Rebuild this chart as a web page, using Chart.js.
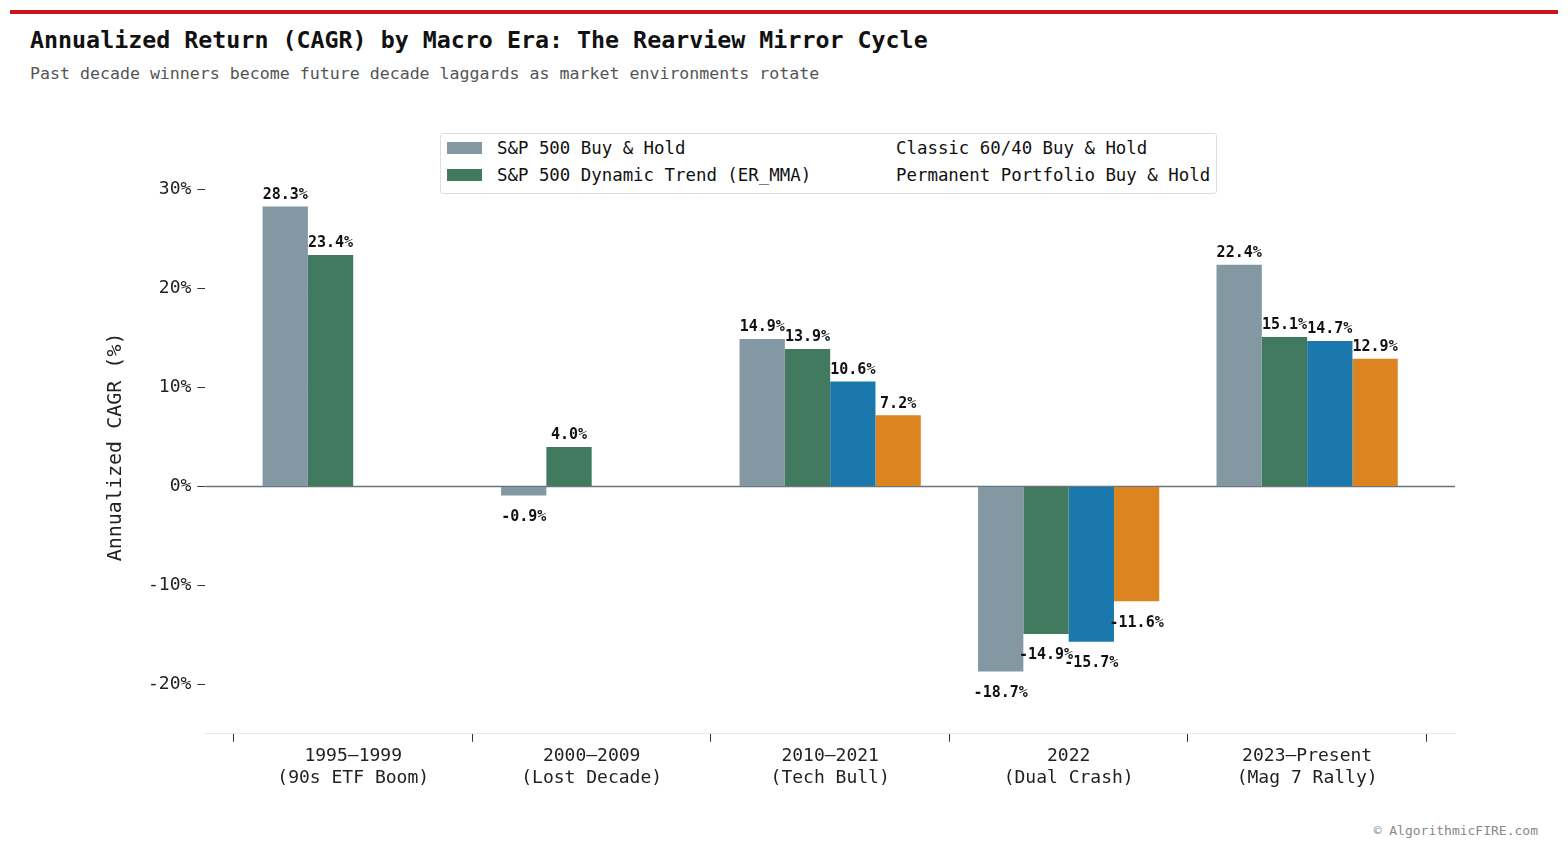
<!DOCTYPE html>
<html><head><meta charset="utf-8">
<script src="https://cdn.jsdelivr.net/npm/chart.js@4"></script>
<style>
body{margin:0;width:1568px;height:853px;background:#fff;position:relative;overflow:hidden;font-family:"DejaVu Sans Mono",monospace}
#bar{position:absolute;left:10px;top:10px;width:1548px;height:4px;background:#d0131a}
#t{position:absolute;left:30px;top:26px;font-size:23.3px;font-weight:bold;color:#111}
#s{position:absolute;left:30px;top:64px;font-size:16.6px;color:#555}
#wm{position:absolute;right:30px;top:823px;font-size:13px;color:#888}
#lg{position:absolute;left:440px;top:133px;width:775px;height:59px;border:1.5px solid #ddd;border-radius:3px;background:#fff;font-size:17.4px;color:#111;z-index:2}
.it{position:absolute;display:flex;align-items:center}
.sw{width:35px;height:12px;margin-right:15px}
canvas{position:absolute;left:0;top:0}
</style></head><body>
<div id="bar"></div>
<div id="t">Annualized Return (CAGR) by Macro Era: The Rearview Mirror Cycle</div>
<div id="s">Past decade winners become future decade laggards as market environments rotate</div>
<div id="lg"></div>
<div id="wm">© AlgorithmicFIRE.com</div>
<canvas id="c" width="1568" height="853"></canvas>
<script>
const categories=[["1995–1999","(90s ETF Boom)"],["2000–2009","(Lost Decade)"],["2010–2021","(Tech Bull)"],["2022","(Dual Crash)"],["2023–Present","(Mag 7 Rally)"]];
const seriesNames=["S&P 500 Buy & Hold","S&P 500 Dynamic Trend (ER_MMA)","Classic 60/40 Buy & Hold","Permanent Portfolio Buy & Hold"];
const spBuyHold=[28.3,-0.9,14.9,-18.7,22.4];
const spDynamic=[23.4,4.0,13.9,-14.9,15.1];
const classic6040=[null,null,10.6,-15.7,14.7];
const permanent=[null,null,7.2,-11.6,12.9];
const yTicks=[30,20,10,0,-10,-20];
const colors=["#8398a2","#417a5f","#1b78ad","#dc8520"];
const showSwatch=[true,true,false,false];
const vals=[spBuyHold,spDynamic,classic6040,permanent];

const lg=document.getElementById('lg');
const pos=[[6,4],[6,31],[455,4],[455,31]];
seriesNames.forEach((n,i)=>{const d=document.createElement('div');d.className='it';d.style.left=pos[i][0]+'px';d.style.top=pos[i][1]+'px';
 d.innerHTML=(showSwatch[i]?'<span class="sw" style="background:'+colors[i]+'"></span>':'')+'<span></span>';d.lastChild.textContent=n;lg.appendChild(d);});

const labelPlugin={id:'lbl',afterDatasetsDraw(ch){const c=ch.ctx;c.save();c.font='bold 15px "DejaVu Sans Mono"';c.fillStyle='#111';c.textAlign='center';
 ch.data.datasets.forEach((ds,i)=>{ch.getDatasetMeta(i).data.forEach((b,j)=>{const v=ds.data[j].y;if(v==null)return;
  const t=v.toFixed(1)+'%';if(v>=0){c.textBaseline='bottom';c.fillText(t,b.x,b.y-4);}else{c.textBaseline='top';c.fillText(t,b.x,b.y+14);}});});c.restore();},
 beforeDatasetsDraw(ch){const c=ch.ctx,y=ch.scales.y.getPixelForValue(0);c.save();c.strokeStyle='#6a7580';c.lineWidth=1.5;c.beginPath();c.moveTo(ch.chartArea.left,y);c.lineTo(ch.chartArea.right,y);c.stroke();c.restore();}};

new Chart(document.getElementById('c'),{type:'bar',
 data:{datasets:vals.map((v,i)=>({label:seriesNames[i],data:v.map((y,j)=>({x:j,y:y})),backgroundColor:colors[i],borderWidth:0}))},
 plugins:[labelPlugin],
 options:{responsive:false,animation:false,
  layout:{padding:{top:160,left:100,right:113,bottom:60}},
  datasets:{bar:{barPercentage:1,categoryPercentage:0.76}},
  plugins:{legend:{display:false},tooltip:{enabled:false}},
  scales:{
   x:{type:'linear',min:-0.62,max:4.62,offset:false,afterBuildTicks(s){s.ticks=categories.map((_,i)=>({value:i}));},
      grid:{display:true,drawOnChartArea:false,tickLength:8,tickColor:'#333'},border:{color:'#e6e6e6'},
      ticks:{color:'#222',font:{family:'DejaVu Sans Mono',size:18},padding:4,callback:v=>categories[v]}},
   y:{min:-25,max:33,z:1,afterBuildTicks(s){s.ticks=yTicks.map(v=>({value:v}));},
      grid:{color:(c)=>c.tick&&c.tick.value!==0?'rgba(255,255,255,0.45)':'rgba(0,0,0,0)',tickColor:'#333',tickLength:8},
      border:{display:false,dash:[5,4]},
      ticks:{color:'#222',font:{family:'DejaVu Sans Mono',size:18},padding:6,callback:v=>v+'%'},
      title:{display:true,text:'Annualized CAGR (%)',color:'#222',font:{family:'DejaVu Sans Mono',size:20},padding:{bottom:14}}}
  }}});
</script>
</body></html>
